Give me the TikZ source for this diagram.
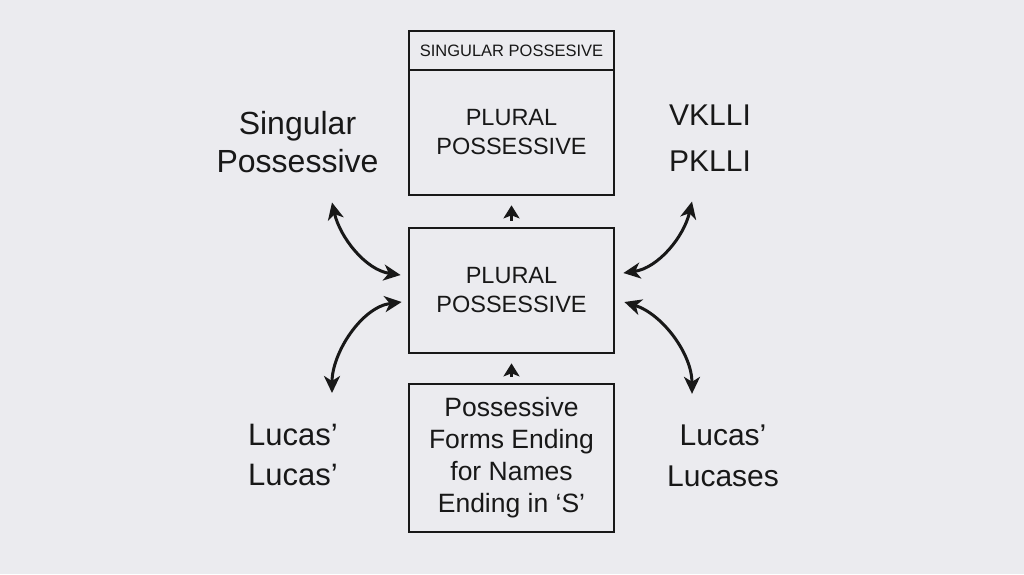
\documentclass[tikz,border=0pt]{standalone}
\usepackage{fontspec}
\setmainfont{Liberation Sans}
\usetikzlibrary{arrows.meta}
\definecolor{bg}{RGB}{235,235,239}
\definecolor{ink}{RGB}{24,24,24}

\begin{document}
\begin{tikzpicture}[x=1pt, y=-1pt, >={Stealth[length=17pt,width=16pt,inset=5pt]},
    box/.style={draw=ink, line width=2.7pt, minimum width=205pt, inner sep=0pt, align=center, text=ink},
    lbl/.style={inner sep=0pt, align=center, text=ink},
    link/.style={<->, line width=3pt, draw=ink},
    up/.style={-{Stealth[length=13pt,width=16pt,inset=3pt]}, line width=3.2pt, draw=ink}]
    % Background
    \fill[bg] (0,0) rectangle (1024,574);

    % Boxes
    \node[box, minimum height=39pt, font=\fontsize{16.5}{18}\selectfont] (head) at (511.5,50.5) {SINGULAR POSSESIVE};
    \node[box, minimum height=125pt, font=\fontsize{23.5}{29}\selectfont] (top) at (511.5,132.5) {PLURAL\\POSSESSIVE};
    \node[box, minimum height=125pt, font=\fontsize{23.5}{29}\selectfont] (mid) at (511.5,290.5) {PLURAL\\POSSESSIVE};
    \node[box, minimum height=148pt, font=\fontsize{26.5}{32}\selectfont] (bot) at (511.5,458) {Possessive\\Forms Ending\\for Names\\Ending in ‘S’};

    % Side labels
    \node[lbl, font=\fontsize{32}{38}\selectfont] (singL) at (297.5,142.5) {Singular\\Possessive};
    \node[lbl, font=\fontsize{30}{46}\selectfont] (vk) at (710,138) {VKLLI\\PKLLI};
    \node[lbl, font=\fontsize{31}{40}\selectfont] (lucL) at (293,455) {Lucas’\\Lucas’};
    \node[lbl, font=\fontsize{30}{41}\selectfont] (lucR) at (723,456) {Lucas’\\Lucases};

    % Up arrows between boxes
    \draw[up] ([yshift=6pt]mid.north) -- ([yshift=-9pt]top.south);
    \draw[up] ([yshift=6pt]bot.north) -- ([yshift=-9pt]mid.south);

    % Curved links to the middle box
    \draw[link] ([xshift=34.5pt,yshift=-29pt]singL.south) .. controls +(8,35) and +(-35,-5) .. ([xshift=-7pt,yshift=15.5pt]mid.west);
    \draw[link] ([xshift=-18pt,yshift=-30pt]vk.south) .. controls +(-8,35) and +(35,-5) .. ([xshift=8pt,yshift=17.5pt]mid.east);
    \draw[link] ([xshift=39pt,yshift=31pt]lucL.north) .. controls +(0,-40) and +(-40,5) .. ([xshift=-6pt,yshift=-11.5pt]mid.west);
    \draw[link] ([xshift=-31pt,yshift=31pt]lucR.north) .. controls +(0,-40) and +(38,12) .. ([xshift=9pt,yshift=-11.5pt]mid.east);
\end{tikzpicture}
\end{document}
